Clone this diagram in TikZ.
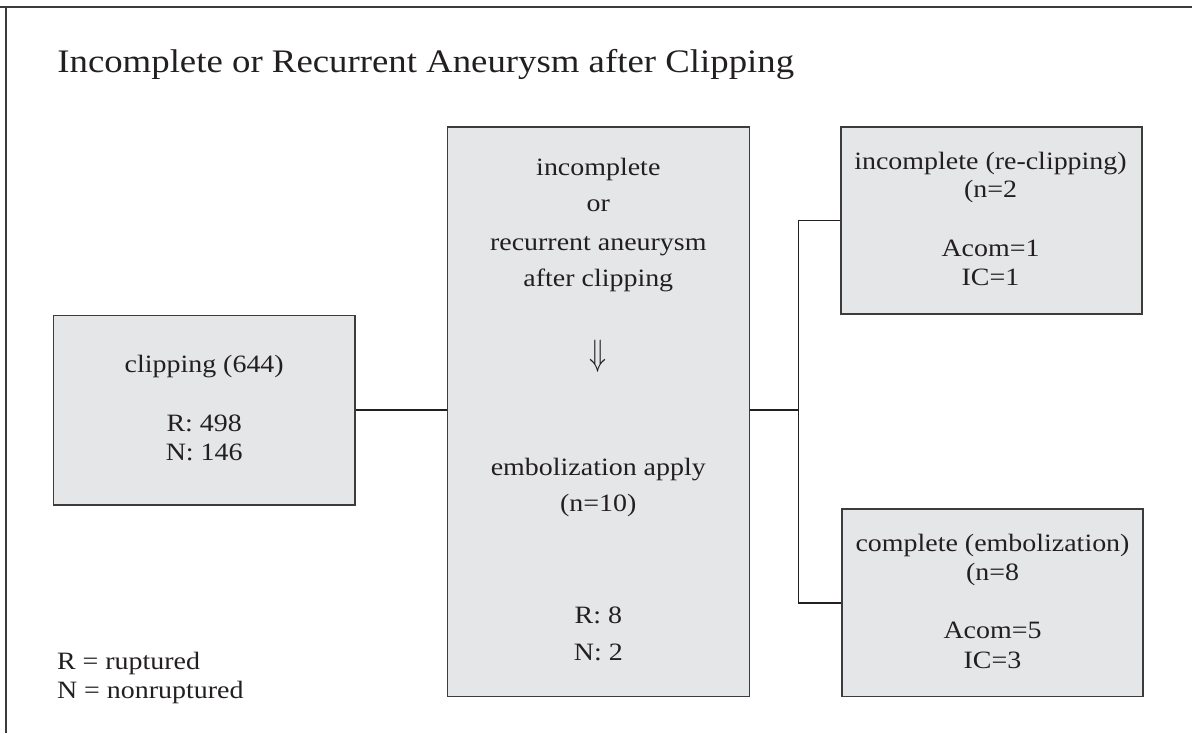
\documentclass[tikz,border=0pt]{standalone}
\usepackage{fontspec}
\setmainfont[FakeStretch=1.12]{Liberation Serif}
\definecolor{boxfill}{HTML}{E5E6E8}
\definecolor{boxline}{HTML}{3C3C3C}
\definecolor{ink}{HTML}{231F20}
\begin{document}
\begin{tikzpicture}[x=0.02cm, y=-0.02cm, color=ink,
    box/.style={draw=boxline, fill=boxfill, line width=0.85pt, inner sep=0pt},
    conn/.style={draw=ink, line width=0.7pt},
    txt/.style={anchor=base, inner sep=0pt, font=\fontsize{14.2}{17}\selectfont},
    legend/.style={txt, anchor=base west}]
        \useasboundingbox (0,0) rectangle (1192,733);
        % frame
        \draw[boxline, line width=1.1pt] (0,6.7) -- (1192,6.7);
        \draw[boxline, line width=1.1pt] (6,6.7) -- (6,733);
        \node[anchor=base west, inner sep=0pt, font=\fontsize{18.7}{22}\selectfont] (title) at (57,72.7)
            {Incomplete or Recurrent Aneurysm after Clipping};
        % boxes
        \node[box, minimum width=6.03cm, minimum height=3.79cm] (clip) at (204.2,410.4) {};
        \node[box, minimum width=6.04cm, minimum height=11.4cm] (recur) at (598.3,411.7) {};
        \node[box, minimum width=6.03cm, minimum height=3.75cm] (reclip) at (991.5,220.5) {};
        \node[box, minimum width=6.03cm, minimum height=3.75cm] (emb) at (992.5,602.9) {};
        \coordinate (split) at (798.3,410);
        % connectors
        \draw[conn] (clip.east |- split) -- (recur.west |- split);
        \draw[conn] (recur.east |- split) -- (split);
        \draw[conn] (reclip.west) -| (split) |- (emb.west);
        % texts
        \foreach \y/\s [count=\i] in {372.7/clipping (644), 431.7/R: 498, 460.7/N: 146}
            \node[txt] (cliptxt\i) at (204.2,\y) {\s};
        \foreach \y/\s [count=\i] in {175/incomplete, 211.7/or, 250/recurrent aneurysm,
                286.7/after clipping, 475/embolization apply, 511.7/(n=10), 623/R: 8, 660.7/N: 2}
            \node[txt] (recurtxt\i) at (598.3,\y) {\s};
        \node[txt] (turn) at (598.3,365) {\scalebox{1.1}[1.45]{$\Downarrow$}};
        \foreach \y/\s [count=\i] in {170/incomplete (re-clipping), 197.7/(n=2, 256.7/Acom=1, 285.7/IC=1}
            \node[txt] (reciptxt\i) at (990.5,\y) {\s};
        \foreach \y/\s [count=\i] in {551.7/complete (embolization), 580/(n=8, 638.3/Acom=5, 668.3/IC=3}
            \node[txt] (embtxt\i) at (992.5,\y) {\s};
        % legend
        \node[legend] (keyr) at (56.7,669.3) {R = ruptured};
        \node[legend] (keyn) at (56.7,698.3) {N = nonruptured};
\end{tikzpicture}
\end{document}
